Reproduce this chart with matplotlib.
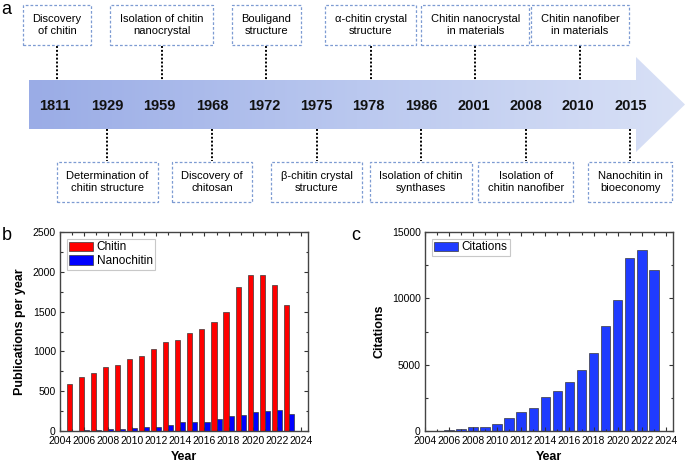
import matplotlib
matplotlib.use("Agg")
import matplotlib.pyplot as plt
import numpy as np
from matplotlib import font_manager
from matplotlib.patches import Polygon
from matplotlib.ticker import MultipleLocator


# timeline data
TIMELINE_YEARS = ["1811", "1929", "1959", "1968", "1972", "1975",
                  "1978", "1986", "2001", "2008", "2010", "2015"]
TIMELINE_EVENTS = [
    "Discovery\nof chitin",
    "Determination of\nchitin structure",
    "Isolation of chitin\nnanocrystal",
    "Discovery of\nchitosan",
    "Bouligand\nstructure",
    "β-chitin crystal\nstructure",
    "α-chitin crystal\nstructure",
    "Isolation of chitin\nsynthases",
    "Chitin nanocrystal\nin materials",
    "Isolation of\nchitin nanofiber",
    "Chitin nanofiber\nin materials",
    "Nanochitin in\nbioeconomy",
]

# panel b / c data
YEARS = list(range(2005, 2024))
CHITIN = [595, 682, 724, 803, 828, 910, 946, 1033, 1120, 1146, 1228, 1280,
          1368, 1494, 1812, 1965, 1958, 1835, 1585]
NANOCHITIN = [3, 8, 12, 30, 20, 38, 50, 55, 70, 108, 118, 113,
              150, 188, 205, 233, 257, 260, 213]
CITATIONS = [20, 50, 120, 280, 330, 560, 1000, 1400, 1750, 2575, 3025, 3700,
             4625, 5875, 7900, 9875, 13025, 13650, 12125]


def pickFont():
    names = {f.name for f in font_manager.fontManager.ttflist}
    for name in ["Liberation Sans Narrow", "Liberation Sans", "DejaVu Sans"]:
        if name in names:
            return name
    return "DejaVu Sans"


FONT = pickFont()
plt.rcParams["font.family"] = [FONT, "DejaVu Sans"]

W, H = 687, 463


def drawTimeline(fig):
    ax = fig.add_axes([0, 0, 1, 1], zorder=0)
    ax.set_xlim(0, W)
    ax.set_ylim(H, 0)
    ax.axis("off")

    # arrow shape
    body_top, body_bot = 80, 129
    head_top, head_bot = 57, 152
    x0, x_head, x_tip = 29, 636, 685
    y_mid = (body_top + body_bot) / 2
    arrow = Polygon(
        [(x0, body_top), (x_head, body_top), (x_head, head_top), (x_tip, y_mid),
         (x_head, head_bot), (x_head, body_bot), (x0, body_bot)],
        closed=True, facecolor="none", edgecolor="none",
    )
    ax.add_patch(arrow)
    grad = np.linspace(0, 1, 256).reshape(1, -1)
    cmap = matplotlib.colors.LinearSegmentedColormap.from_list(
        "arrow", ["#9aace6", "#bac8ef", "#d9e1f6"])
    im = ax.imshow(grad, extent=[x0, x_tip, head_bot, head_top], cmap=cmap,
                   aspect="auto", zorder=1)
    im.set_clip_path(arrow)

    step = 52.3
    box_style = dict(boxstyle="square,pad=0.85", facecolor="white",
                     edgecolor="#7d9bd2", linewidth=0.9, linestyle=(0, (2.2, 1.6)))
    for i, (year, event) in enumerate(zip(TIMELINE_YEARS, TIMELINE_EVENTS)):
        x = 55 + step * i
        ax.text(x, y_mid + 1, year, ha="center", va="center", fontsize=10.5,
                fontweight="bold", color="#111111", zorder=3)
        if i % 2 == 0:
            ax.plot([x + 2, x + 2], [46, body_top], color="black", linestyle=(0, (1, 1)),
                    linewidth=1.4, zorder=2)
            ax.text(x + 2, 25, event, ha="center", va="center", fontsize=8,
                    linespacing=1.25, bbox=box_style, zorder=3)
        else:
            ax.plot([x, x], [body_bot, 161], color="black", linestyle=(0, (1, 1)),
                    linewidth=1.4, zorder=2)
            ax.text(x, 182, event, ha="center", va="center", fontsize=8,
                    linespacing=1.25, bbox=box_style, zorder=3)

    ax.text(1, 9, "a", fontsize=13, va="center", ha="left")
    ax.text(2, 236, "b", fontsize=13, va="center", ha="left")
    ax.text(351, 236, "c", fontsize=13, va="center", ha="left")


def styleAxes(ax, ymax, ymajor, yminor):
    ax.set_xlim(2004, 2024.6)
    ax.set_ylim(0, ymax)
    ax.xaxis.set_major_locator(MultipleLocator(2))
    ax.xaxis.set_minor_locator(MultipleLocator(1))
    ax.yaxis.set_major_locator(MultipleLocator(ymajor))
    ax.yaxis.set_minor_locator(MultipleLocator(yminor))
    ax.tick_params(which="both", direction="in", top=True, right=True,
                   labelsize=7.5, color="#333333")
    ax.tick_params(axis="x", pad=3.5)
    ax.tick_params(axis="y", pad=3)
    ax.tick_params(which="major", length=3, width=0.8)
    ax.tick_params(which="minor", length=1.8, width=0.8)
    for spine in ax.spines.values():
        spine.set_color("#444444")
        spine.set_linewidth(1.0)
    ax.set_xlabel("Year", fontsize=9, fontweight="bold", labelpad=4)


def drawPublications(fig):
    ax = fig.add_axes([60 / W, 1 - 431 / H, 248 / W, 199 / H], zorder=2)
    years = np.array(YEARS)
    width = 0.42
    ax.bar(years - width / 2, CHITIN, width=width, color="#ff0000",
           edgecolor="#3a3a3a", linewidth=0.5, label="Chitin")
    ax.bar(years + width / 2, NANOCHITIN, width=width, color="#0000ff",
           edgecolor="#3a3a3a", linewidth=0.5, label="Nanochitin")
    styleAxes(ax, 2500, 500, 250)
    ax.set_ylabel("Publications per year", fontsize=9, fontweight="bold", labelpad=5)
    leg = ax.legend(loc="upper left", fontsize=8.5, fancybox=False, framealpha=1,
                    edgecolor="#c8c8c8", handlelength=2.0, handleheight=0.85,
                    handletextpad=0.3, borderpad=0.2, labelspacing=0.15,
                    borderaxespad=0.6)
    leg.get_frame().set_linewidth(0.8)


def drawCitations(fig):
    ax = fig.add_axes([425 / W, 1 - 431 / H, 248 / W, 199 / H], zorder=2)
    ax.bar(YEARS, CITATIONS, width=0.8, color="#1f3bff", edgecolor="#3a3a3a",
           linewidth=0.5, label="Citations")
    styleAxes(ax, 15000, 5000, 2500)
    ax.set_ylabel("Citations", fontsize=9, fontweight="bold", labelpad=5)
    leg = ax.legend(loc="upper left", fontsize=8.5, fancybox=False, framealpha=1,
                    edgecolor="#c8c8c8", handlelength=2.0, handleheight=0.85,
                    handletextpad=0.3, borderpad=0.2, borderaxespad=0.6)
    leg.get_frame().set_linewidth(0.8)


def main():
    fig = plt.figure(figsize=(W / 100, H / 100), dpi=100)
    drawTimeline(fig)
    drawPublications(fig)
    drawCitations(fig)
    fig.savefig("out.png", dpi=100)
    plt.close(fig)


if __name__ == "__main__":
    main()
